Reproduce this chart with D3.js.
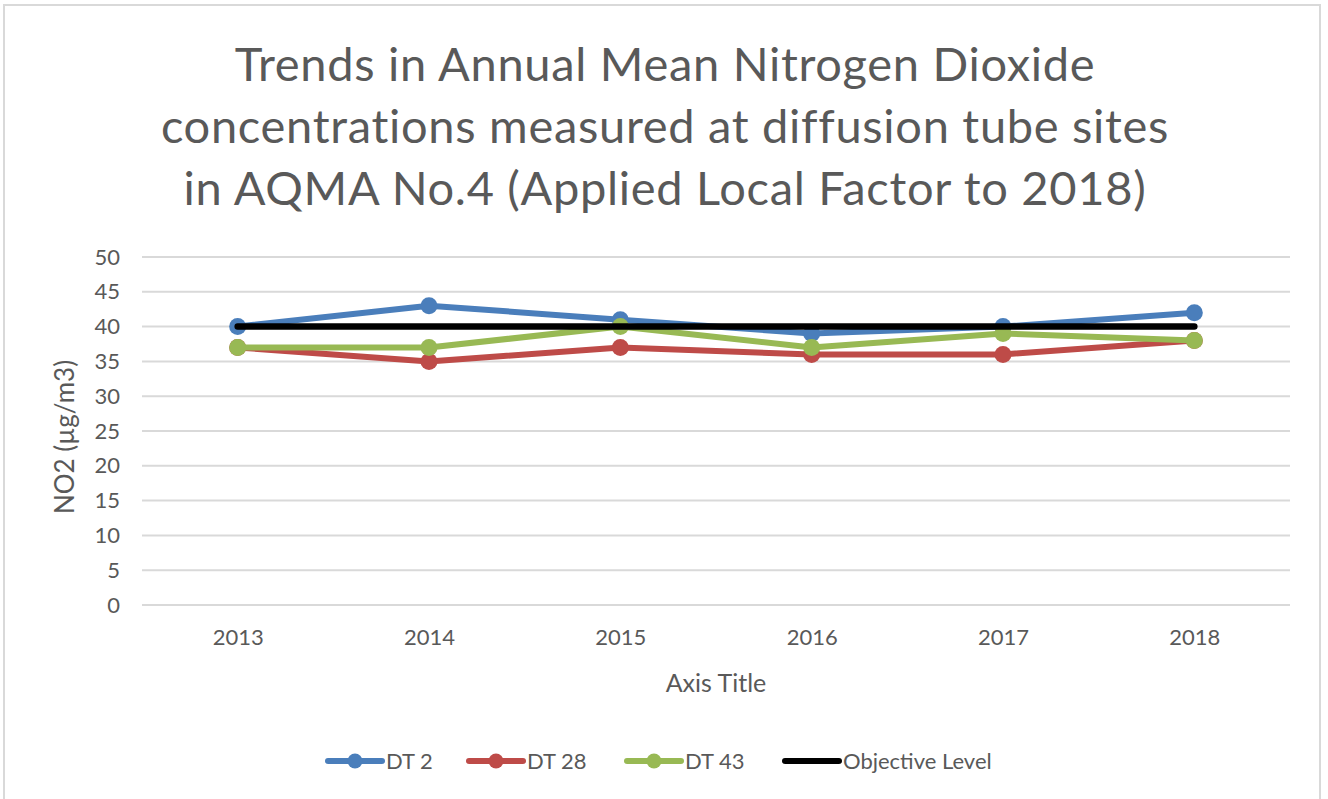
<!DOCTYPE html>
<html>
<head>
<meta charset="utf-8">
<script src="https://cdn.jsdelivr.net/npm/d3@7"></script>
<style>
  body { margin: 0; background: #fff; }
  text { font-family: Lato, "Open Sans", sans-serif; fill: #595959; }
</style>
</head>
<body>
<div id="chart"></div>
<script>
const years = ["2013", "2014", "2015", "2016", "2017", "2018"];
const dt2 = [40, 43, 41, 39, 40, 42];
const dt28 = [37, 35, 37, 36, 36, 38];
const dt43 = [37, 37, 40, 37, 39, 38];
const objective = [40, 40, 40, 40, 40, 40];
const yTicks = [0, 5, 10, 15, 20, 25, 30, 35, 40, 45, 50];
const titleLines = [
    "Trends in Annual Mean Nitrogen Dioxide",
    "concentrations measured at diffusion tube sites",
    "in AQMA No.4 (Applied Local Factor to 2018)"
];

const series = [
    { name: "DT 2", values: dt2, color: "#4a7ebb", markers: true },
    { name: "DT 28", values: dt28, color: "#be4b48", markers: true },
    { name: "DT 43", values: dt43, color: "#98b954", markers: true },
    { name: "Objective Level", values: objective, color: "#000000", markers: false }
];

const W = 1328, H = 799;
const MARGINS = { left: 142, right: 38, top: 257, bottom: 194 };
const chartWidth = W - MARGINS.left - MARGINS.right;
const chartHeight = H - MARGINS.top - MARGINS.bottom;

const svg = d3.select("#chart").append("svg")
    .attr("width", W)
    .attr("height", H);

// outer border
svg.append("rect")
    .attr("x", 4).attr("y", 5)
    .attr("width", 1316).attr("height", 800)
    .attr("fill", "none")
    .attr("stroke", "#d9d9d9")
    .attr("stroke-width", 2);

// title
svg.append("g").selectAll("text")
    .data(titleLines)
    .enter().append("text")
    .attr("x", 665)
    .attr("y", (d, i) => 81 + i * 62)
    .attr("text-anchor", "middle")
    .style("font-size", "47px")
    .style("letter-spacing", "0.7px")
    .text(d => d);

const xScale = d3.scalePoint()
    .domain(years)
    .range([0, chartWidth])
    .padding(0.5);

const yScale = d3.scaleLinear()
    .domain([0, 50])
    .range([chartHeight, 0]);

const chartG = svg.append("g")
    .attr("transform", "translate(" + MARGINS.left + "," + MARGINS.top + ")");

// gridlines
chartG.append("g")
    .selectAll("line")
    .data(yTicks)
    .enter().append("line")
    .attr("x1", 0).attr("x2", chartWidth)
    .attr("y1", d => yScale(d)).attr("y2", d => yScale(d))
    .attr("stroke", "#d9d9d9")
    .attr("stroke-width", 2);

// y axis
const yAxis = chartG.append("g")
    .call(d3.axisLeft(yScale).tickValues(yTicks).tickSize(0).tickPadding(22));
yAxis.select(".domain").remove();
yAxis.selectAll("text").style("font-size", "22px").attr("fill", "#595959");

// x axis
const xAxis = chartG.append("g")
    .attr("transform", "translate(0," + chartHeight + ")")
    .call(d3.axisBottom(xScale).tickSize(0).tickPadding(24));
xAxis.select(".domain").remove();
xAxis.selectAll("text").style("font-size", "22px").attr("fill", "#595959");

// axis titles
svg.append("text")
    .attr("transform", "translate(74,437) rotate(-90)")
    .attr("text-anchor", "middle")
    .style("font-size", "26px")
    .text("NO2 (µg/m3)");

svg.append("text")
    .attr("x", 716)
    .attr("y", 692)
    .attr("text-anchor", "middle")
    .style("font-size", "25px")
    .text("Axis Title");

// lines
const line = d3.line()
    .x((d, i) => xScale(years[i]))
    .y(d => yScale(d));

series.forEach(s => {
    chartG.append("path")
        .datum(s.values)
        .attr("d", line)
        .attr("fill", "none")
        .attr("stroke", s.color)
        .attr("stroke-width", s.markers ? 6 : 6.5)
        .attr("stroke-linecap", "round")
        .attr("stroke-linejoin", "round");
    if (s.markers) {
        chartG.append("g")
            .selectAll("circle")
            .data(s.values)
            .enter().append("circle")
            .attr("cx", (d, i) => xScale(years[i]))
            .attr("cy", d => yScale(d))
            .attr("r", 8.5)
            .attr("fill", s.color);
    }
});

// legend
const legendPos = [326, 467, 625, 783];
const legend = svg.append("g");
series.forEach((s, i) => {
    const g = legend.append("g").attr("transform", "translate(" + legendPos[i] + ",761)");
    g.append("line")
        .attr("x1", 2).attr("x2", 56)
        .attr("y1", 0).attr("y2", 0)
        .attr("stroke", s.color)
        .attr("stroke-width", 6)
        .attr("stroke-linecap", "round");
    if (s.markers) {
        g.append("circle").attr("cx", 29).attr("cy", 0).attr("r", 7.5).attr("fill", s.color);
    }
    g.append("text")
        .attr("x", 60)
        .attr("y", 8)
        .style("font-size", "22px")
        .text(s.name);
});
</script>
</body>
</html>
